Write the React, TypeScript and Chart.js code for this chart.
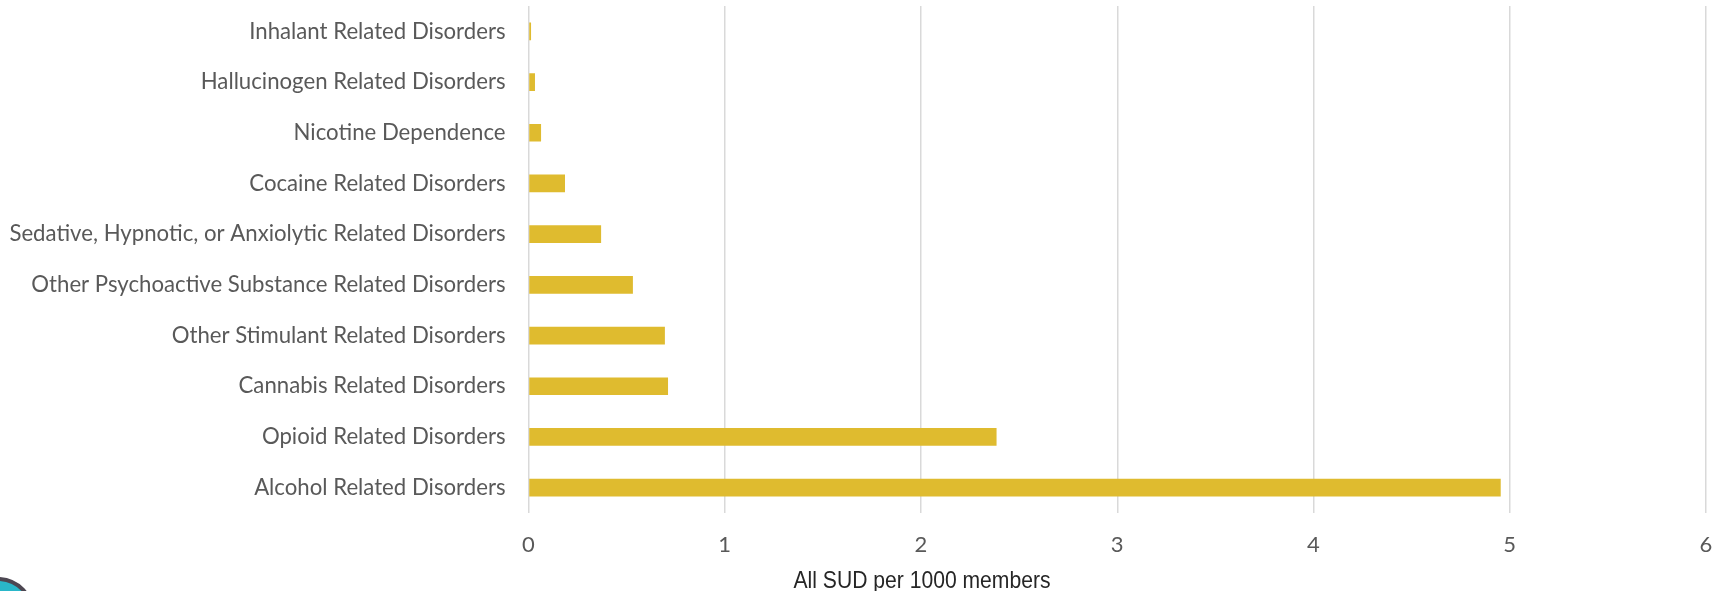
import React, { useEffect, useRef } from "react";
import { Chart, registerables } from "chart.js";

Chart.register(...registerables);

// Disorder categories, listed top to bottom
const categories: string[] = [
  "Inhalant Related Disorders",
  "Hallucinogen Related Disorders",
  "Nicotine Dependence",
  "Cocaine Related Disorders",
  "Sedative, Hypnotic, or Anxiolytic Related Disorders",
  "Other Psychoactive Substance Related Disorders",
  "Other Stimulant Related Disorders",
  "Cannabis Related Disorders",
  "Opioid Related Disorders",
  "Alcohol Related Disorders",
];

// Diagnoses per 1000 members
const ratePer1000: number[] = [0.013, 0.033, 0.064, 0.186, 0.37, 0.532, 0.695, 0.711, 2.385, 4.954];

const xTicks: number[] = [0, 1, 2, 3, 4, 5, 6];
const xTitle = "All SUD per 1000 members";

const W = 1723;
const H = 591;
const LABEL_FONT = "Lato, 'Open Sans', sans-serif";
const TITLE_FONT = "'Liberation Sans', Arial, sans-serif";

export default function App() {
  const ref = useRef<HTMLCanvasElement | null>(null);

  useEffect(() => {
    if (!ref.current) return;
    const chart = new Chart(ref.current, {
      type: "bar",
      data: {
        labels: categories,
        datasets: [
          {
            data: ratePer1000,
            backgroundColor: "#DFBB2F",
            borderWidth: 0,
            barPercentage: 0.35,
            categoryPercentage: 1,
          },
        ],
      },
      options: {
        indexAxis: "y",
        responsive: false,
        animation: false,
        devicePixelRatio: 1,
        layout: { padding: { top: 6, right: 17, bottom: 0, left: 0 } },
        plugins: {
          legend: { display: false },
          tooltip: { enabled: false },
        },
        scales: {
          x: {
            type: "linear",
            min: xTicks[0],
            max: xTicks[xTicks.length - 1],
            afterBuildTicks: (scale: any) => {
              scale.ticks = xTicks.map((v) => ({ value: v }));
            },
            afterFit: (scale: any) => {
              scale.height = 78;
              scale.paddingLeft = 0;
              scale.paddingRight = 0;
            },
            grid: {
              color: "#D9D9D9",
              lineWidth: 1.5,
              drawTicks: false,
            },
            border: { display: false },
            ticks: {
              color: "#595959",
              padding: 19,
              font: { family: LABEL_FONT, size: 22 },
            },
            title: { display: false },
          },
          y: {
            afterFit: (scale: any) => {
              scale.width = 528.5;
              scale.paddingTop = 0;
              scale.paddingBottom = 0;
            },
            grid: { display: false, drawTicks: false },
            border: { display: false },
            ticks: {
              color: "#595959",
              padding: 23,
              autoSkip: false,
              font: { family: LABEL_FONT, size: 22.2 },
            },
          },
        },
      },
    });
    return () => chart.destroy();
  }, []);

  return (
    <div
      style={{
        position: "fixed",
        left: 0,
        top: 0,
        width: W,
        height: H,
        overflow: "hidden",
        background: "#FFFFFF",
      }}
    >
      <canvas ref={ref} width={W} height={H} style={{ display: "block", width: W, height: H }} />
      {/* x-axis title */}
      <div
        style={{
          position: "absolute",
          left: 921.5 - 500,
          top: 567.6,
          width: 1000,
          textAlign: "center",
          fontFamily: TITLE_FONT,
          fontSize: 24.5,
          lineHeight: "24.5px",
          color: "#262626",
          whiteSpace: "nowrap",
          transform: "scaleX(0.862)",
          transformOrigin: "50% 50%",
        }}
      >
        {xTitle}
      </div>
      {/* corner badge */}
      <div
        style={{
          position: "absolute",
          left: -3 - 39,
          top: 616 - 39,
          width: 78,
          height: 78,
          boxSizing: "border-box",
          borderRadius: "50%",
          border: "4px solid #4D4752",
          background: "#2AB7C9",
        }}
      />
    </div>
  );
}
